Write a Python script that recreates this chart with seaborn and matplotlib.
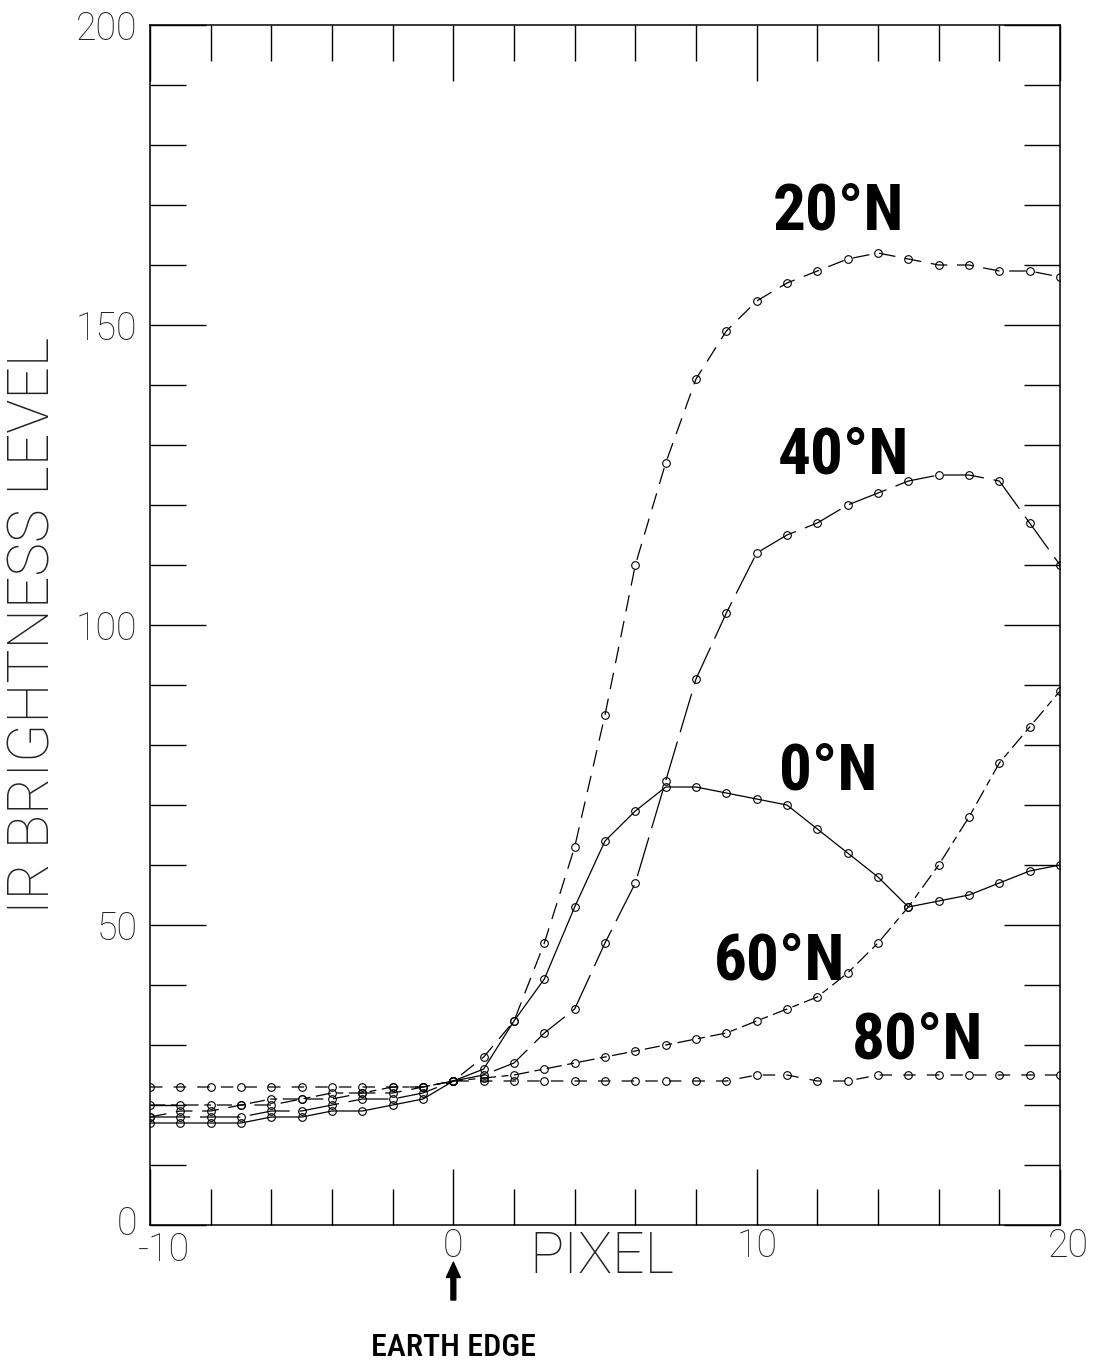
import matplotlib
matplotlib.use("Agg")
import matplotlib.pyplot as plt
import matplotlib.font_manager as fm
import matplotlib.transforms as mtransforms
import seaborn as sns
import numpy as np
import pandas as pd
from matplotlib.ticker import MultipleLocator

# ---------------- data ----------------
pixel = list(range(-10, 21))

lat0 = [17, 17, 17, 17, 18, 18, 19, 19, 20, 21,
        24, 26, 34, 41, 53, 64, 69, 73, 73, 72, 71, 70, 66, 62, 58, 53, 54, 55, 57, 59, 60]
lat20 = [18, 19, 19, 20, 20, 21, 21, 22, 22, 23,
         24, 28, 34, 47, 63, 85, 110, 127, 141, 149, 154, 157, 159, 161, 162, 161, 160, 160, 159, 159, 158]
lat40 = [18, 18, 18, 18, 19, 19, 20, 21, 21, 22,
         24, 25, 27, 32, 36, 47, 57, 74, 91, 102, 112, 115, 117, 120, 122, 124, 125, 125, 124, 117, 110]
lat60 = [20, 20, 20, 20, 21, 21, 22, 22, 23, 23,
         24, 24.5, 25, 26, 27, 28, 29, 30, 31, 32, 34, 36, 38, 42, 47, 53, 60, 68, 77, 83, 89]
lat80 = [23, 23, 23, 23, 23, 23, 23, 23, 23, 23,
         24, 24, 24, 24, 24, 24, 24, 24, 24, 24, 25, 25, 24, 24, 25, 25, 25, 25, 25, 25, 25]

series_names = ["0°N", "20°N", "40°N", "60°N", "80°N"]
series_values = [lat0, lat20, lat40, lat60, lat80]

label_x = [12.35, 12.7, 12.85, 10.74, 15.32]
label_y = [75.5, 168.8, 128.2, 43.8, 30.7]

x_tick_labels = ["-10", "0", "10", "20"]
y_tick_labels = ["0", "50", "100", "150", "200"]

# ---------------- style ----------------
sns.set_style("white")
plt.rcParams["lines.scale_dashes"] = False
plt.rcParams["font.family"] = ["Roboto", "DejaVu Sans"]


def pick_narrow(bold):
    """Find an installed narrow / condensed face."""
    want_w = 700 if bold else 500
    best = None
    best_score = None
    for f in fm.fontManager.ttflist:
        name = f.name
        stretch = str(f.stretch).lower()
        fname = f.fname.lower()
        narrow = ("narrow" in name.lower() or "condensed" in name.lower()
                  or "condensed" in stretch or "narrow" in fname
                  or "condensed" in fname)
        if not narrow:
            continue
        if "italic" in fname or "oblique" in fname or f.style != "normal":
            continue
        try:
            w = int(f.weight)
        except Exception:
            w = {"bold": 700, "normal": 400, "regular": 400,
                 "medium": 500}.get(str(f.weight).lower(), 400)
        score = abs(w - want_w)
        pref = 0
        if "liberation" in name.lower():
            pref = -50
        elif "roboto" in name.lower():
            pref = -40
        score += pref
        if best_score is None or score < best_score:
            best, best_score = f, score
    if best is None:
        return fm.FontProperties(family="DejaVu Sans",
                                 weight="bold" if bold else "normal",
                                 stretch="condensed")
    return fm.FontProperties(fname=best.fname)


narrow_bold = pick_narrow(True)
narrow_reg = pick_narrow(False)

line_styles = {
    "0°N": "-",
    "20°N": (0, (12, 7)),
    "40°N": (0, (29, 7)),
    "60°N": (0, (11, 4, 5, 4)),
    "80°N": (0, (9, 8)),
}

fig = plt.figure(figsize=(11, 13.72), dpi=100)
ax = fig.add_axes([150 / 1100, 1 - 1225 / 1372, 910 / 1100, 1200 / 1372])

for name, vals in zip(series_names, series_values):
    sns.lineplot(x=pixel, y=vals, ax=ax, color="black", linewidth=0.9,
                 linestyle=line_styles[name], marker="o", markersize=5.5,
                 markerfacecolor="none", markeredgecolor="black",
                 markeredgewidth=0.8, sort=False, errorbar=None)

ax.set_xlim(-10, 20)
ax.set_ylim(0, 200)

ax.xaxis.set_minor_locator(MultipleLocator(2))
ax.yaxis.set_minor_locator(MultipleLocator(10))
ax.set_xticks([-10, 0, 10, 20])
ax.set_xticklabels(x_tick_labels)
ax.set_yticks([0, 50, 100, 150, 200])
ax.set_yticklabels(y_tick_labels)

ax.tick_params(which="both", direction="in", top=True, right=True,
               bottom=True, left=True, color="black", width=1.0)
ax.tick_params(which="major", length=40)
ax.tick_params(which="minor", length=26)
ax.tick_params(axis="x", which="major", pad=2, labelsize=27)
ax.tick_params(axis="y", which="major", pad=9, labelsize=27)
for lab in ax.get_xticklabels() + ax.get_yticklabels():
    lab.set_fontweight(100)
    lab.set_color("#222222")

# nudge the corner labels apart like in the original
xl = ax.get_xticklabels()
xl[0].set_transform(xl[0].get_transform() +
                    mtransforms.ScaledTranslation(14 / 100, -4 / 100, fig.dpi_scale_trans))
xl[-1].set_transform(xl[-1].get_transform() +
                     mtransforms.ScaledTranslation(8 / 100, 0, fig.dpi_scale_trans))
yl = ax.get_yticklabels()
yl[0].set_transform(yl[0].get_transform() +
                    mtransforms.ScaledTranslation(0, 5 / 100, fig.dpi_scale_trans))

for sp in ax.spines.values():
    sp.set_visible(True)
    sp.set_color("black")
    sp.set_linewidth(1.1)

ax.set_xlabel("PIXEL", fontsize=41, fontweight=100, color="#222222")
ax.xaxis.set_label_coords(0.497, -0.004)
ax.set_ylabel("IR BRIGHTNESS LEVEL", fontsize=41, fontweight=100,
              color="#222222", va="center")
ax.yaxis.set_label_coords(-0.128, 0.5)

for name, lx, ly in zip(series_names, label_x, label_y):
    ax.text(lx, ly, name, fontproperties=narrow_bold, fontsize=47,
            ha="center", va="center", color="black")

# Earth edge arrow and text
ax.annotate("", xy=(0, -0.031), xytext=(0, -0.0625),
            xycoords=("data", "axes fraction"), textcoords=("data", "axes fraction"),
            arrowprops=dict(facecolor="black", edgecolor="black", width=3.5,
                            headwidth=10, headlength=11, shrink=0),
            annotation_clip=False)
ax.text(0, -0.1025, "EARTH EDGE", transform=ax.get_xaxis_transform(),
        fontproperties=narrow_reg, fontsize=23,
        ha="center", va="center", color="black", clip_on=False)

fig.savefig("out.png", dpi=100)
